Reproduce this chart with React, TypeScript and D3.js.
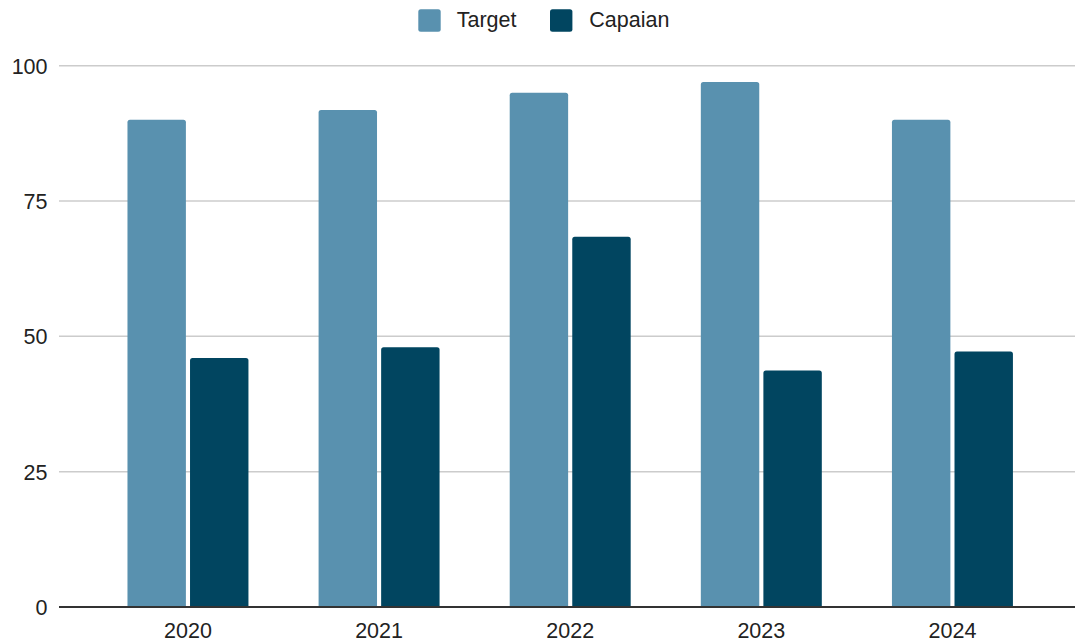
import React from "react";
import * as d3 from "d3";

const categories = ["2020", "2021", "2022", "2023", "2024"];
const seriesNames = ["Target", "Capaian"];
const targetValues = [90, 91.8, 95, 97, 90];
const capaianValues = [46, 48, 68.4, 43.7, 47.2];
const yTicks = [0, 25, 50, 75, 100];
const colors = ["#5991AF", "#014560"];

const W = 1075;
const H = 642;
const FONT = "'Liberation Sans', Arial, sans-serif";

function topRoundedRect(x: number, y: number, w: number, h: number, r: number) {
  const rr = Math.min(r, h, w / 2);
  return `M${x},${y + h}V${y + rr}Q${x},${y} ${x + rr},${y}H${x + w - rr}Q${x + w},${y} ${x + w},${y + rr}V${y + h}Z`;
}

export default function App() {
  const y = d3.scaleLinear().domain([0, 100]).range([607, 65.7]);
  const x0 = d3
    .scaleBand<string>()
    .domain(categories)
    .range([92.4, 1048])
    .paddingInner(0.367)
    .paddingOuter(0.1835);
  const x1 = d3
    .scaleBand<string>()
    .domain(seriesNames)
    .range([0, x0.bandwidth()])
    .paddingInner(0.066);
  const series = [targetValues, capaianValues];

  return (
    <div style={{ position: "fixed", left: 0, top: 0, width: W, height: H, background: "#fff" }}>
      <svg width={W} height={H} style={{ display: "block" }} fontFamily={FONT}>
        {/* gridlines */}
        {yTicks.filter((t) => t !== 0).map((t) => (
          <line key={t} x1={59} x2={W} y1={y(t)} y2={y(t)} stroke="#cccccc" strokeWidth={1.5} />
        ))}
        {/* y labels */}
        {yTicks.map((t) => (
          <text key={t} x={47.5} y={y(t) + 8} textAnchor="end" fontSize={21.5} fill="#222">
            {t}
          </text>
        ))}
        {/* bars */}
        {categories.map((c, i) => (
          <g key={c} transform={`translate(${x0(c)},0)`}>
            {seriesNames.map((s, j) => {
              const v = series[j][i];
              const top = y(v);
              return (
                <path
                  key={s}
                  d={topRoundedRect(x1(s)!, top, x1.bandwidth(), y(0) - top, 2.5)}
                  fill={colors[j]}
                />
              );
            })}
          </g>
        ))}
        {/* baseline */}
        <line x1={59} x2={W} y1={y(0)} y2={y(0)} stroke="#333" strokeWidth={2} />
        {/* x labels */}
        {categories.map((c) => (
          <text
            key={c}
            x={x0(c)! + x0.bandwidth() / 2}
            y={637.5}
            textAnchor="middle"
            fontSize={21.5}
            fill="#222"
          >
            {c}
          </text>
        ))}
        {/* legend */}
        <g>
          <rect x={418.3} y={9.3} width={22.4} height={22.4} rx={2.5} fill={colors[0]} />
          <text x={456.7} y={26.7} fontSize={21.5} fill="#222">
            {seriesNames[0]}
          </text>
          <rect x={550} y={9.3} width={22.4} height={22.4} rx={2.5} fill={colors[1]} />
          <text x={589.3} y={26.7} fontSize={21.5} fill="#222">
            {seriesNames[1]}
          </text>
        </g>
      </svg>
    </div>
  );
}
